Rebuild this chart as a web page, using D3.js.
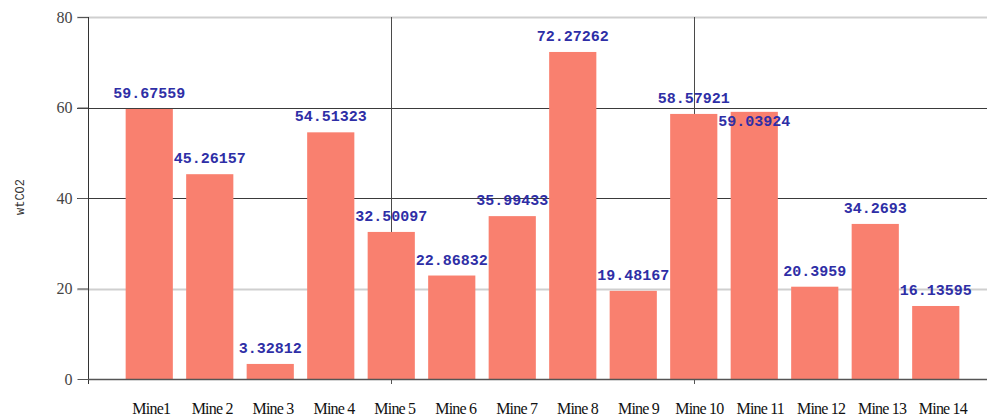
<!DOCTYPE html>
<html>
<head>
<meta charset="utf-8">
<script src="https://d3js.org/d3.v7.min.js"></script>
<style>
  body { margin: 0; background: #fff; }
</style>
</head>
<body>
<svg width="987" height="420"></svg>
<script>

var mines = ["Mine1", "Mine 2", "Mine 3", "Mine 4", "Mine 5", "Mine 6", "Mine 7",
             "Mine 8", "Mine 9", "Mine 10", "Mine 11", "Mine 12", "Mine 13", "Mine 14"];
var values = [59.67559, 45.26157, 3.32812, 54.51323, 32.50097, 22.86832, 35.99433,
              72.27262, 19.48167, 58.57921, 59.03924, 20.3959, 34.2693, 16.13595];
var yTicks = [0, 20, 40, 60, 80];
var vTicks = [0, 1, 2];

var svg = d3.select("svg");

var yScale = d3.scaleLinear().domain([0, 80]).range([379, 17]);
var xScale = d3.scaleBand().domain(mines).range([119, 966])
    .paddingInner(0.22).paddingOuter(0.11);
// the odd vertical grid lines
var vScale = d3.scaleLinear().domain([0, 1]).range([88.5, 391.5]);

// horizontal grid
svg.append("g").selectAll("line")
    .data(yTicks.slice(1))
    .enter().append("line")
    .attr("x1", 77).attr("x2", 987)
    .attr("y1", function (d) { return Math.round(yScale(d)) + 0.5; })
    .attr("y2", function (d) { return Math.round(yScale(d)) + 0.5; })
    .style("stroke", function (d) { return (d == 20 || d == 80) ? "#cfcfcf" : "#3a3a3a"; })
    .style("stroke-width", function (d) { return (d == 20 || d == 80) ? 2 : 1.2; });

// value labels positions
var labels = [];
values.forEach(function (v, i) {
    var cx = xScale(mines[i]) + xScale.bandwidth() / 2;
    var y = yScale(v) - 11;
    var inside = false;
    var prev = labels[i - 1];
    // push down when it runs into the previous label
    if (prev && Math.abs(prev.y - y) < 14 && prev.cx + 73 > cx) { y = yScale(v) + 14; inside = true; }
    labels.push({ cx: cx, y: y, text: String(v), inside: inside });
});

function drawLabels(list) {
    svg.append("g").selectAll("text")
        .data(list)
        .enter().append("text")
        .attr("x", function (d) { return d.cx; })
        .attr("y", function (d) { return d.y; })
        .attr("text-anchor", "middle")
        .style("font-family", "'Liberation Mono', monospace")
        .style("font-weight", "bold")
        .style("font-size", "15px")
        .style("fill", "#2e2ea6")
        .text(function (d) { return d.text; });
}

drawLabels(labels.filter(function (d) { return !d.inside; }));

// vertical grid, over the labels but under the bars
svg.append("g").selectAll("line")
    .data(vTicks.slice(1))
    .enter().append("line")
    .attr("x1", function (d) { return vScale(d); })
    .attr("x2", function (d) { return vScale(d); })
    .attr("y1", 17).attr("y2", 384)
    .style("stroke", "#4a4a4a")
    .style("stroke-width", 1);

// bars
svg.append("g").selectAll("rect")
    .data(values)
    .enter().append("rect")
    .attr("x", function (d, i) { return xScale(mines[i]); })
    .attr("y", function (d) { return yScale(d); })
    .attr("width", xScale.bandwidth())
    .attr("height", function (d) { return yScale(0) - yScale(d); })
    .style("fill", "#f9806f");

drawLabels(labels.filter(function (d) { return d.inside; }));

// y axis
var yAxis = svg.append("g")
    .attr("transform", "translate(88.5,0)")
    .call(d3.axisLeft(yScale).tickValues(yTicks).tickSize(11).tickPadding(5));
yAxis.select(".domain").remove();
yAxis.append("line").attr("x1", 0).attr("x2", 0).attr("y1", 17).attr("y2", 384)
    .style("stroke", "#333");
yAxis.selectAll(".tick line").style("stroke", "#555");
yAxis.selectAll("text")
    .style("font-family", "'Liberation Serif', serif")
    .style("font-size", "16px")
    .style("fill", "#444");

// x axis
svg.append("line")
    .attr("x1", 88).attr("x2", 987)
    .attr("y1", yScale(0) + 0.5).attr("y2", yScale(0) + 0.5)
    .style("stroke", "#555").style("stroke-width", 1.6);

svg.append("g").selectAll("line")
    .data(vTicks.slice(1))
    .enter().append("line")
    .attr("x1", function (d) { return vScale(d); })
    .attr("x2", function (d) { return vScale(d); })
    .attr("y1", 379).attr("y2", 384)
    .style("stroke", "#555");

svg.append("g").selectAll("text")
    .data(mines)
    .enter().append("text")
    .attr("x", function (d, i) { return xScale(d) + xScale.bandwidth() / 2 + 2 + i * 0.4; })
    .attr("y", 414)
    .attr("text-anchor", "middle")
    .style("font-family", "'Liberation Serif', serif")
    .style("font-size", "16px")
    .style("letter-spacing", "-0.8px")
    .style("fill", "#111")
    .text(function (d) { return d; });

// y label
svg.append("text")
    .attr("text-anchor", "middle")
    .attr("transform", "translate(24,197)rotate(-90)")
    .style("font-family", "'Liberation Mono', monospace")
    .style("font-size", "12px")
    .style("fill", "#333")
    .text("wtCO2");

</script>
</body>
</html>
